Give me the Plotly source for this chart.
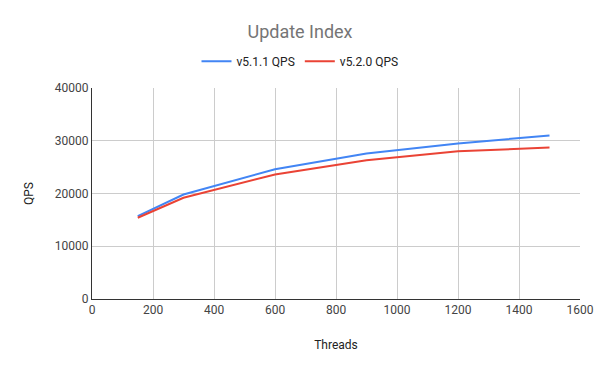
import plotly.graph_objects as go

threads = [150, 300, 600, 900, 1200, 1500]
v511_qps = [15700, 19800, 24600, 27600, 29500, 31000]
v520_qps = [15400, 19200, 23600, 26300, 28000, 28700]

fig = go.Figure()
fig.add_trace(go.Scatter(x=threads, y=v511_qps, mode="lines", name="v5.1.1 QPS",
                         line=dict(color="#4285F4", width=2)))
fig.add_trace(go.Scatter(x=threads, y=v520_qps, mode="lines", name="v5.2.0 QPS",
                         line=dict(color="#EA4335", width=2)))

fig.update_layout(
    width=600, height=371,
    margin=dict(l=92, r=20, t=88, b=72),
    paper_bgcolor="white", plot_bgcolor="white",
    font=dict(family="Roboto, Arial, sans-serif", size=12, color="#444444"),
    title=dict(text="Update Index", x=0.5, xanchor="center", xref="container",
               y=0.915, yanchor="middle", yref="container",
               font=dict(size=18, color="#757575")),
    legend=dict(orientation="h", x=0.5, xanchor="center", xref="container",
                y=0.835, yanchor="middle", yref="container",
                font=dict(size=12, color="#222222"), itemwidth=30),
    xaxis=dict(range=[0, 1600], dtick=200, showgrid=True, gridcolor="#cccccc",
               showline=True, linecolor="#333333", zeroline=False, ticks="",
               tickformat="d", automargin=False,
               title=dict(text="Threads", font=dict(size=12, color="#222222"), standoff=24)),
    yaxis=dict(range=[0, 40000], dtick=10000, showgrid=True, gridcolor="#cccccc",
               showline=True, linecolor="#333333", zeroline=False, ticks="",
               tickformat="d", automargin=False,
               title=dict(text="QPS", font=dict(size=12, color="#222222"), standoff=18)),
)
fig.write_html("out.html", post_script="document.body.style.margin='0';",
               config={"displayModeBar": False})
